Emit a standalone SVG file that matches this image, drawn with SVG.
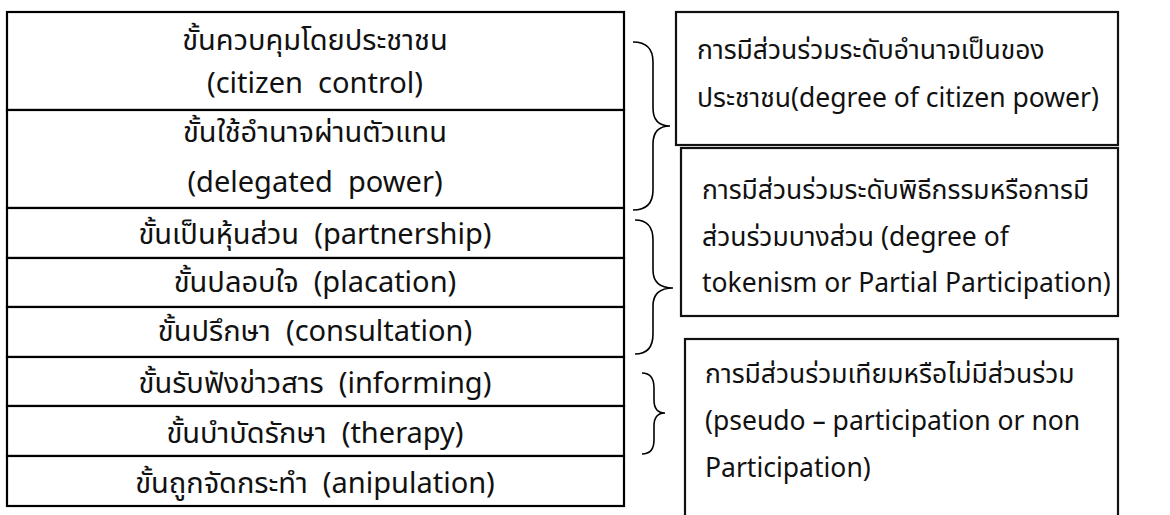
<svg xmlns="http://www.w3.org/2000/svg" width="1170" height="515" viewBox="0 0 1170 515">
<style>
.t{font-family:"Noto Sans Thai","Noto Sans","DejaVu Sans",sans-serif;font-size:26.5px;fill:#111;white-space:pre}
.c{text-anchor:middle;font-size:29px}
.cell{fill:#fff;stroke:#000;stroke-width:2.2}
.box{fill:#fff;stroke:#111;stroke-width:2.2}
.brace{fill:none;stroke:#000;stroke-width:1.6}
</style>
<rect width="1170" height="515" fill="#fff"/>
<g id="ladder">
<g id="row1"><rect class="cell" x="7" y="12" width="617" height="98"/>
<text class="t c" x="315" y="50">ขั้นควบคุมโดยประชาชน</text>
<text class="t c" x="315" y="93">(citizen  control)</text></g>
<g id="row2"><rect class="cell" x="7" y="110" width="617" height="98"/>
<text class="t c" x="315" y="142">ขั้นใช้อำนาจผ่านตัวแทน</text>
<text class="t c" x="315" y="192">(delegated  power)</text></g>
<g id="row3"><rect class="cell" x="7" y="208" width="617" height="50"/>
<text class="t c" x="315" y="244">ขั้นเป็นหุ้นส่วน  (partnership)</text></g>
<g id="row4"><rect class="cell" x="7" y="258" width="617" height="49"/>
<text class="t c" x="315" y="292">ขั้นปลอบใจ  (placation)</text></g>
<g id="row5"><rect class="cell" x="7" y="307" width="617" height="50"/>
<text class="t c" x="315" y="341">ขั้นปรึกษา  (consultation)</text></g>
<g id="row6"><rect class="cell" x="7" y="357" width="617" height="49"/>
<text class="t c" x="315" y="393">ขั้นรับฟังข่าวสาร  (informing)</text></g>
<g id="row7"><rect class="cell" x="7" y="406" width="617" height="50"/>
<text class="t c" x="315" y="443">ขั้นบำบัดรักษา  (therapy)</text></g>
<g id="row8"><rect class="cell" x="7" y="456" width="617" height="50"/>
<text class="t c" x="315" y="493">ขั้นถูกจัดกระทำ  (anipulation)</text></g>
</g>
<g id="connectors">
<path class="brace" d="M633,42 Q653,42 653,62 L653,108 Q653,126 670,126 Q653,126 653,144 L653,190 Q653,210 633,210"/>
<path class="brace" d="M635,220 Q653,220 653,240 L653,270 Q653,288 673,288 Q653,288 653,306 L653,334 Q653,354 635,354"/>
<path class="brace" d="M642,373 Q654,373 654,388 L654,400 Q654,413 665,413 Q654,413 654,426 L654,440 Q654,454 642,454"/>
</g>
<g id="box1"><rect class="box" x="676" y="12" width="442" height="133"/>
<text class="t" x="697" y="59">การมีส่วนร่วมระดับอำนาจเป็นของ</text>
<text class="t" x="697" y="107">ประชาชน(degree of citizen power)</text></g>
<g id="box2"><rect class="box" x="681" y="148" width="437" height="168"/>
<text class="t" x="702" y="199">การมีส่วนร่วมระดับพิธีกรรมหรือการมี</text>
<text class="t" x="702" y="246">ส่วนร่วมบางส่วน (degree of</text>
<text class="t" x="702" y="292">tokenism or Partial Participation)</text></g>
<g id="box3"><rect class="box" x="685" y="339" width="433" height="190"/>
<text class="t" x="705" y="383">การมีส่วนร่วมเทียมหรือไม่มีส่วนร่วม</text>
<text class="t" x="705" y="430">(pseudo – participation or non</text>
<text class="t" x="705" y="477">Participation)</text></g>
</svg>
